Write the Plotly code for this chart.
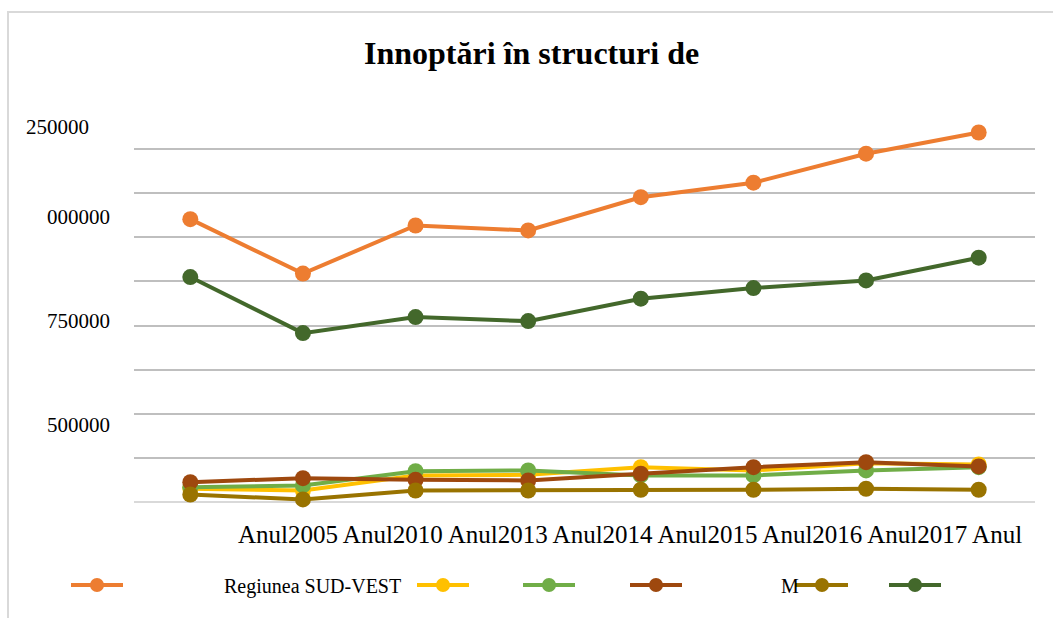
import plotly.graph_objects as go

# Categories and series values
years = ["2005", "2010", "2013", "2014", "2015", "2016", "2017", "2018"]

regiunea_sud_vest = [801000, 647000, 783000, 769000, 863000, 904000, 986000, 1046000]
serie_galbena = [38700, 33900, 76400, 78300, 99800, 90500, 111100, 107500]
serie_verde = [43300, 48100, 88500, 90500, 76400, 76400, 90500, 99800]
serie_maro = [57400, 68700, 64200, 62200, 81200, 99800, 114000, 101800]
serie_oliv = [22600, 8500, 33900, 33900, 35900, 35900, 38700, 35900]
serie_verde_inchis = [637200, 478800, 524000, 512700, 576100, 606100, 627800, 692000]

series = [
    ("Regiunea SUD-VEST", regiunea_sud_vest, "#ED7D31"),
    ("Serie 2", serie_galbena, "#FFC000"),
    ("Serie 3", serie_verde, "#70AD47"),
    ("Serie 4", serie_maro, "#9E480E"),
    ("Serie 5", serie_oliv, "#997300"),
    ("Serie 6", serie_verde_inchis, "#43682B"),
]

# Axis text as it appears on the chart
y_label_text = ["250000", "000000", "750000", "500000"]
x_label_line = "Anul2005 Anul2010 Anul2013 Anul2014 Anul2015 Anul2016 Anul2017 Anul"
title_text = "Innoptări în structuri de"

W, H = 1053, 618
L, R, T, B = 134, 18, 104, 115
PW, PH = W - L - R, H - T - B
FONT = "Liberation Serif"


def px(xp):
    return (xp - L) / PW


def py(yp):
    return (T + PH - yp) / PH


fig = go.Figure()
for name, vals, color in series:
    fig.add_trace(go.Scatter(
        x=list(range(len(years))), y=vals, name=name,
        mode="lines+markers",
        line=dict(color=color, width=4),
        marker=dict(color=color, size=16),
        cliponaxis=False, showlegend=False,
    ))

annotations = [
    dict(text="<b>%s</b>" % title_text, x=px(531), y=py(53), xref="paper", yref="paper",
         xanchor="center", yanchor="middle", showarrow=False,
         font=dict(family=FONT, size=32, color="#000000")),
    dict(text=x_label_line, x=px(236), y=py(534), xref="paper", yref="paper",
         xanchor="left", yanchor="middle", showarrow=False,
         font=dict(family=FONT, size=25, color="#000000")),
]

# y labels: (text, right edge px, centre px)
y_label_pos = [(91, 127), (112, 217), (112, 321), (112, 425)]
for txt, (xr, yc) in zip(y_label_text, y_label_pos):
    annotations.append(dict(text=txt, x=px(xr), y=py(yc), xref="paper", yref="paper",
                            xanchor="right", yanchor="middle", showarrow=False,
                            font=dict(family=FONT, size=21, color="#000000")))

# Legend keys drawn along the bottom
legend_centres = [97, 443, 549, 656, 822, 915]
legend_y = 585
shapes = []
for (name, vals, color), xc in zip(series, legend_centres):
    shapes.append(dict(type="line", xref="paper", yref="paper",
                       x0=px(xc - 26), x1=px(xc + 26), y0=py(legend_y), y1=py(legend_y),
                       line=dict(color=color, width=4)))
    shapes.append(dict(type="circle", xref="paper", yref="paper",
                       x0=px(xc - 7), x1=px(xc + 7), y0=py(legend_y + 7), y1=py(legend_y - 7),
                       fillcolor=color, line=dict(color=color, width=0)))

annotations.append(dict(text="Regiunea SUD-VEST", x=px(222), y=py(586), xref="paper", yref="paper",
                        xanchor="left", yanchor="middle", showarrow=False,
                        font=dict(family=FONT, size=20, color="#000000")))
annotations.append(dict(text="M", x=px(779), y=py(586), xref="paper", yref="paper",
                        xanchor="left", yanchor="middle", showarrow=False,
                        font=dict(family=FONT, size=20, color="#000000")))

# Chart frame
shapes.append(dict(type="rect", xref="paper", yref="paper", layer="below",
                   x0=px(8), x1=px(1070), y0=py(640), y1=py(12),
                   line=dict(color="#D9D9D9", width=2), fillcolor="rgba(0,0,0,0)"))

fig.update_layout(
    width=W, height=H,
    margin=dict(l=L, r=R, t=T, b=B),
    paper_bgcolor="white", plot_bgcolor="white",
    showlegend=False,
    xaxis=dict(range=[-0.5, len(years) - 0.5], showgrid=False, zeroline=False,
               showticklabels=False, showline=False, ticks=""),
    yaxis=dict(range=[-1500, 1126500], dtick=125000, tick0=0,
               showgrid=True, gridcolor="#BFBFBF", gridwidth=2,
               zeroline=True, zerolinecolor="#D9D9D9", zerolinewidth=2,
               showticklabels=False, showline=False, ticks=""),
    annotations=annotations,
    shapes=shapes,
)

fig.write_html("out.html")
